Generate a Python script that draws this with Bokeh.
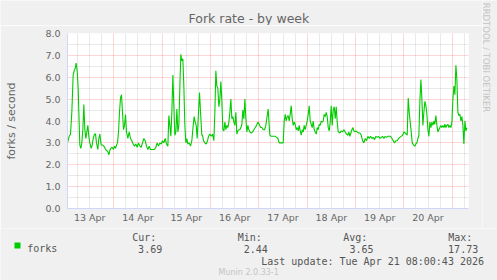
import math
from bokeh.plotting import figure
from bokeh.layouts import column, row
from bokeh.models import Range1d, FixedTicker, PrintfTickFormatter, Label, BoxAnnotation
from bokeh.embed import file_html
from bokeh.resources import INLINE

# ---- data: hours since 13 Apr 00:00, forks per second ----
times = [1.0, 1.83, 2.49, 3.15, 3.81, 4.31, 4.81, 5.30, 5.80, 6.30, 6.63, 7.12, 7.62, 8.12, 8.61, 9.11, 9.61,
         10.10, 10.60, 11.10, 11.59, 12.09, 12.75, 13.25, 13.75, 14.41, 14.90, 15.40, 16.06, 16.56, 17.06, 17.72,
         18.38, 19.04, 19.70, 20.37, 21.03, 21.53, 22.02, 22.52, 23.18, 23.84, 24.34, 24.84, 25.33, 25.83, 26.33,
         26.82, 27.32, 27.82, 28.31, 28.81, 29.31, 29.80, 30.30, 30.96, 31.62, 32.29, 32.95, 33.61,
         34.27, 34.93, 35.60, 36.26, 36.92, 37.58, 38.25, 38.91, 39.57, 40.23, 40.89, 41.56, 42.22, 42.88, 43.54,
         44.21, 44.87, 45.53, 46.19, 46.85, 47.52, 48.18, 48.84, 49.50, 50.16, 50.83, 51.32, 51.82, 52.32, 52.81,
         53.31, 53.81, 54.30, 54.80, 55.30, 55.79, 56.29, 56.79, 57.28, 57.78, 58.27, 58.77, 59.27, 59.76, 60.26,
         60.76, 61.42, 62.08, 62.74, 63.41, 63.90, 64.40, 64.90, 65.39, 66.05, 66.55, 67.05, 67.71,
         68.04, 68.54, 69.20, 69.86, 70.53, 71.02, 71.68, 72.35, 73.01, 73.67, 74.17, 74.66, 75.16, 75.66, 76.15,
         76.65, 77.15, 77.64, 78.14, 78.64, 79.13, 79.63, 80.13, 80.62, 81.12, 81.62, 82.11, 82.61, 83.11, 83.60,
         84.10, 84.60, 85.09, 85.59, 86.09, 86.58, 87.08, 87.58, 88.07, 88.57, 89.07, 89.56, 90.06, 90.56, 91.05,
         91.55, 92.21, 92.87, 93.53, 94.20, 94.86, 95.52, 96.18, 96.85, 97.51, 98.17, 98.83, 99.49, 100.16,
         100.65, 101.15,
         101.48, 102.14, 102.81, 103.47, 104.13, 104.79, 105.45, 106.12, 106.78, 107.44, 108.10, 108.60, 109.10,
         109.59, 110.09, 110.59, 111.08, 111.58, 112.08, 112.57, 113.07, 113.57, 114.06, 114.56, 115.06, 115.55,
         116.05, 116.55, 117.04, 117.54, 118.03, 118.53, 119.03, 119.52, 120.02, 120.52, 121.01, 121.51, 122.01,
         122.50, 123.00, 123.50, 123.99, 124.49, 124.99, 125.48, 125.98, 126.48, 126.97, 127.47, 127.97, 128.46,
         128.96, 129.46, 129.95, 130.45, 130.95, 131.44, 131.94, 132.44, 132.93, 133.43, 133.93, 134.42, 134.92,
         135.42,
         135.58, 136.25, 136.91, 137.57, 138.23, 138.89, 139.56, 140.22, 140.71, 141.21, 141.71, 142.20, 142.70,
         143.20, 143.69, 144.19, 144.85, 145.51, 146.18, 146.84, 147.50, 148.16, 148.83, 149.49, 150.15, 150.81,
         151.47, 152.14, 152.80, 153.46, 154.12, 154.78, 155.45, 156.11, 156.77, 157.43, 158.10, 158.76, 159.42,
         160.08, 160.74, 161.41, 162.07, 162.73, 163.39, 164.05, 164.72, 165.38, 166.04, 166.70, 167.37, 168.03,
         168.69,
         169.67, 170.17, 170.67, 171.16, 171.66, 172.16, 172.82, 173.48, 173.98, 174.47, 174.97, 175.47, 175.96,
         176.46, 176.96, 177.45, 177.95, 178.45, 178.94, 179.44, 179.94, 180.43, 180.93, 181.43, 181.92, 182.42,
         182.92, 183.41, 183.91, 184.41, 184.90, 185.40, 185.90, 186.39, 186.89, 187.39, 187.88, 188.38, 188.88,
         189.37, 189.87, 190.37, 190.86, 191.36, 191.86, 192.35, 192.85, 193.35, 193.84, 194.34, 194.83, 195.33,
         195.83, 196.32, 196.82, 197.32, 197.81, 198.31, 198.81, 199.30]
forks = [3.0, 3.3, 3.4, 4.4, 6.1, 6.3, 6.4, 6.65, 6.3, 5.5, 4.4, 2.9, 2.75, 3.0, 3.6, 4.75, 3.6,
         3.2, 3.5, 3.8, 3.3, 3.0, 2.75, 2.9, 3.2, 3.4, 3.4, 3.0, 2.7, 3.2, 3.4, 2.9,
         2.9, 2.85, 2.75, 2.65, 2.6, 2.45, 2.65, 2.75, 2.8, 2.7, 2.85, 2.75, 2.9, 3.0, 3.5,
         4.4, 5.05, 5.2, 4.4, 3.6, 3.8, 4.3, 3.5, 3.2, 3.5, 3.2, 3.1, 2.95,
         2.85, 2.95, 2.8, 3.0, 2.85, 2.8, 3.0, 3.2, 3.1, 2.85, 2.7, 2.85, 2.7, 2.7, 2.7,
         2.7, 2.8, 3.0, 2.85, 3.0, 2.95, 3.1, 3.0, 3.2, 2.95, 2.85, 4.25, 3.8, 3.3, 4.4,
         6.1, 4.7, 3.35, 3.5, 4.55, 3.5, 3.8, 5.6, 7.05, 6.75, 6.85, 5.6, 3.8, 3.0, 3.2,
         2.95, 3.0, 2.85, 3.1, 3.8, 4.2, 3.95, 3.8, 3.2, 4.4, 5.3, 4.4, 3.35,
         3.35, 3.1, 3.0, 2.95, 3.1, 3.3, 3.4, 3.3, 3.4, 3.1, 4.4, 6.3, 5.6, 5.5, 4.65,
         5.0, 5.8, 4.9, 3.6, 3.55, 3.95, 3.6, 3.8, 3.7, 3.95, 4.4, 5.0, 4.1, 4.2, 3.95,
         3.8, 4.4, 3.4, 3.55, 3.6, 3.6, 3.7, 3.85, 4.5, 4.1, 5.0, 4.1, 3.5, 3.8, 3.6,
         3.5, 3.45, 3.5, 3.6, 3.7, 3.8, 3.95, 3.85, 3.7, 3.7, 3.6, 3.6, 3.8, 4.25,
         4.55, 3.8,
         3.35, 3.3, 3.3, 3.3, 3.3, 3.25, 3.2, 3.0, 3.0, 3.0, 3.0, 4.0, 4.3,
         4.0, 4.2, 4.25, 4.0, 4.3, 4.7, 4.1, 3.8, 3.95, 3.85, 3.6, 3.7, 3.55,
         3.8, 3.55, 3.35, 3.6, 3.5, 3.8, 3.6, 3.8, 4.0, 4.3, 4.7, 4.0, 3.85,
         3.7, 4.0, 3.6, 3.5, 3.4, 3.7, 3.6, 3.85, 3.8, 4.0, 3.95, 4.0, 4.3,
         4.2, 4.4, 4.2, 3.7, 3.55, 3.95, 4.7, 3.8, 4.5, 4.65, 4.1, 4.65, 3.95,
         3.5,
         3.5, 3.45, 3.55, 3.5, 3.6, 3.5, 3.4, 3.35, 3.5, 3.3, 3.45, 3.6, 3.7,
         3.55, 3.5, 3.55, 3.5, 3.45, 3.45, 3.35, 3.1, 3.0, 3.2, 3.1, 3.3, 3.2,
         3.3, 3.2, 3.25, 3.15, 3.3, 3.25, 3.3, 3.2, 3.25, 3.3, 3.2, 3.3, 3.25,
         3.3, 3.3, 3.3, 3.2, 3.1, 3.0, 3.1, 3.1, 3.2, 3.25, 3.3, 3.35, 3.5,
         3.45,
         3.35, 5.05, 4.4, 3.95, 3.5, 3.0, 2.9, 2.85, 2.95, 3.0, 3.2, 3.35, 4.9,
         5.9, 5.0, 3.8, 4.4, 4.9, 4.7, 4.3, 3.6, 3.3, 3.95, 3.7, 3.95, 3.8,
         4.0, 3.85, 4.25, 3.8, 3.5, 3.6, 3.7, 3.8, 3.7, 3.8, 3.7, 3.85, 3.7,
         3.8, 3.85, 3.7, 3.8, 3.7, 3.95, 5.0, 5.6, 5.2, 6.55, 5.9, 4.4, 4.25,
         4.3, 4.0, 4.2, 3.8, 2.95, 4.0, 3.55, 3.69]

day_label_hours = [12, 36, 60, 84, 108, 132, 156, 180]
day_labels = ["13 Apr", "14 Apr", "15 Apr", "16 Apr", "17 Apr", "18 Apr", "19 Apr", "20 Apr"]
y_ticks = [0, 1, 2, 3, 4, 5, 6, 7, 8]

legend_name = "forks"
stat_names = ["Cur:", "Min:", "Avg:", "Max:"]
stat_values = ["3.69", "2.44", "3.65", "17.73"]
title_text = "Fork rate - by week"
y_label_text = "forks / second"
last_update = "Last update: Tue Apr 21 08:00:43 2026"
version_text = "Munin 2.0.33-1"
side_text = "RRDTOOL / TOBI OETIKER"

# ---- layout (canvas pixels) ----
W, H = 497, 280
FL, FR, FT, FB = 67, 468, 33, 208
TITLE_H = 25          # top strip (title)
TOP_H = 228           # bottom of the chart part; legend strip below
SIDE_X = 482          # start of the right strip (vertical credit text)
X0, X1 = 1.0, 200.1
Y0, Y1 = 0.0, 8.0

FONT = "DejaVu Sans"
MONO = "DejaVu Sans Mono"
TXT = "#666666"
BG = "#f0f0f0"


def strip(w, h, x0, y0):
    """A figure whose frame is the whole strip; data coordinates = page pixels."""
    s = figure(width=w, height=h, output_backend="svg", toolbar_location=None,
               x_range=Range1d(x0, x0 + w), y_range=Range1d(y0 + h, y0),
               x_axis_location=None, y_axis_location=None,
               min_border=0, background_fill_color=BG, border_fill_color=BG, outline_line_color=None)
    s.frame_align = False
    s.grid.visible = False
    return s


def put(fig, text, px, py, size, font=MONO, color="#555555", align="left", angle=0.0):
    fig.add_layout(Label(x=px, y=py, text=text, text_font=font, text_font_size=size,
                         text_color=color, text_align=align, text_baseline="alphabetic", angle=angle))


# ---- main chart ----
p = figure(width=SIDE_X, height=TOP_H - TITLE_H, output_backend="svg", toolbar_location=None,
           x_range=Range1d(X0, X1), y_range=Range1d(Y0, Y1),
           min_border_left=FL, min_border_right=SIDE_X - FR,
           min_border_top=FT - TITLE_H, min_border_bottom=TOP_H - FB,
           background_fill_color="#ffffff", border_fill_color=BG, outline_line_color=None)
p.frame_align = False

AX = "#cfd6f8"
p.xaxis.ticker = FixedTicker(ticks=day_label_hours)
p.xaxis.major_label_overrides = {h: l for h, l in zip(day_label_hours, day_labels)}
p.yaxis.ticker = FixedTicker(ticks=y_ticks)
p.yaxis.formatter = PrintfTickFormatter(format="%.1f")
for ax in (p.xaxis[0], p.yaxis[0]):
    ax.axis_line_color = AX
    ax.axis_line_width = 1
    ax.major_tick_line_color = None
    ax.minor_tick_line_color = None
    ax.major_tick_out = 0
    ax.major_tick_in = 0
    ax.major_label_text_font = FONT
    ax.major_label_text_font_size = "9.5px"
    ax.major_label_text_color = TXT
p.xaxis.major_label_standoff = 3
p.yaxis.major_label_standoff = 7
p.yaxis.axis_label = y_label_text
p.yaxis.axis_label_text_font = FONT
p.yaxis.axis_label_text_font_size = "11px"
p.yaxis.axis_label_text_font_style = "normal"
p.yaxis.axis_label_text_color = TXT
p.yaxis.axis_label_standoff = 24

day_lines = [24 * i for i in range(1, 9)]
six_hour = [h for h in range(6, 200, 6) if h % 24 != 0]
p.xgrid.ticker = FixedTicker(ticks=day_lines, minor_ticks=six_hour)
p.ygrid.ticker = FixedTicker(ticks=y_ticks[1:], minor_ticks=[0.5, 1.5, 2.5, 3.5, 4.5, 5.5, 6.5, 7.5])
for g in (p.xgrid[0], p.ygrid[0]):
    g.grid_line_color = "#ff0000"
    g.grid_line_alpha = 0.32
    g.grid_line_dash = "1 1"
    g.minor_grid_line_color = "#808080"
    g.minor_grid_line_alpha = 0.32
    g.minor_grid_line_dash = "1 1"

p.line(times, forks, line_color="#00cc00", line_width=1.1)

# ---- title strip ----
t = strip(SIDE_X, TITLE_H, 0, 0)
put(t, title_text, 248.4, 18.3, "12.5px", font=FONT, color=TXT, align="center")

# ---- right strip with the vertical credit ----
r = strip(W - SIDE_X, TOP_H, SIDE_X, 0)
put(r, side_text, 485.5, 57, "8.5px", font=FONT, color="#c4c4c4", align="center", angle=-math.pi / 2)

# ---- legend strip ----
q = strip(W, H - TOP_H, 0, TOP_H)
q.add_layout(BoxAnnotation(left=14, right=20, top=242, bottom=248,
                           fill_color="#00cc00", fill_alpha=1.0, line_color=None))
put(q, legend_name, 26.7, 248.3, "10px")
stat_x = [131.7, 237.3, 342.7, 447.7]
val_right = [161.7, 267.3, 373.0, 477.7]
for name, val, sx, vr in zip(stat_names, stat_values, stat_x, val_right):
    put(q, name, sx, 236.7, "10px")
    put(q, val, vr, 248.3, "10px", align="right")
put(q, last_update, 483.5, 260.5, "10px", align="right")
put(q, version_text, 248.2, 271.5, "8px", font=FONT, color="#c4c4c4", align="center")

layout = column(row(column(t, p, spacing=0), r, spacing=0), q, spacing=0)
open("out.html", "w").write(file_html(layout, INLINE))
